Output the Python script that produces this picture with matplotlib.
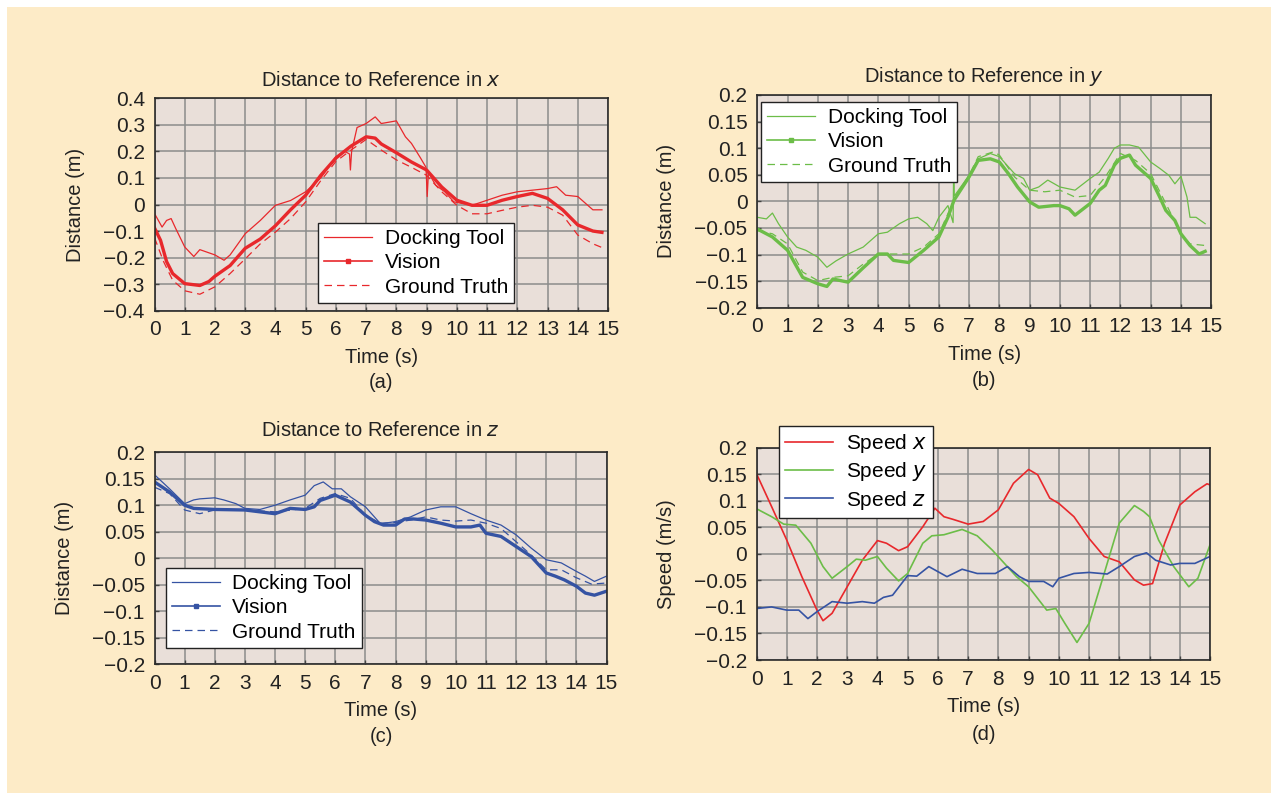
import matplotlib
matplotlib.use("Agg")
import matplotlib.pyplot as plt
from matplotlib.patches import Rectangle

plt.rcParams['font.family'] = ['Liberation Sans', 'DejaVu Sans']

# ---- panel (a): distance in x ----
ax_dock_t = [0, 0.25, 0.4, 0.55, 0.7, 1.0, 1.3, 1.5, 2.0, 2.3, 2.5, 3.0, 3.5, 4.0, 4.5, 5.0, 5.5, 6.0, 6.3,
             6.45, 6.48, 6.52, 6.7, 7.0, 7.3, 7.5, 8.0, 8.3, 8.5, 8.8, 8.98, 9.02, 9.06, 9.3, 9.6, 9.9,
             10.5, 11.0, 11.5, 12.0, 12.5, 13.0, 13.3, 13.6, 14.0, 14.2, 14.5, 14.8]
ax_dock = [-0.034, -0.085, -0.06, -0.053, -0.09, -0.16, -0.196, -0.17, -0.19, -0.21, -0.19, -0.11, -0.06,
           -0.003, 0.015, 0.048, 0.10, 0.18, 0.20, 0.19, 0.13, 0.20, 0.29, 0.305, 0.33, 0.305, 0.315, 0.255,
           0.23, 0.175, 0.14, 0.03, 0.12, 0.073, 0.048, 0.01, -0.003, 0.016, 0.035, 0.048, 0.054, 0.06, 0.067,
           0.035, 0.03, 0.01, -0.02, -0.02]
ax_vis_t = [0, 0.2, 0.4, 0.6, 1.0, 1.5, 1.8, 2.0, 2.5, 3.0, 3.5, 4.0, 4.5, 5.0, 5.5, 6.0, 6.5, 7.0, 7.3, 7.5,
            8.0, 8.5, 9.0, 9.5, 10.0, 10.5, 11.0, 11.5, 12.0, 12.5, 13.0, 13.5, 14.0, 14.5, 14.8]
ax_vis = [-0.088, -0.135, -0.215, -0.26, -0.298, -0.305, -0.29, -0.27, -0.23, -0.165, -0.13, -0.08, -0.02,
          0.035, 0.11, 0.175, 0.22, 0.255, 0.25, 0.228, 0.195, 0.16, 0.13, 0.066, 0.016, -0.003, -0.003,
          0.016, 0.03, 0.042, 0.023, -0.02, -0.077, -0.10, -0.105]
ax_gt_t = [0, 0.3, 0.6, 1.0, 1.5, 2.0, 2.5, 3.0, 3.5, 4.0, 4.5, 5.0, 5.5, 6.0, 6.5, 7.0, 7.5, 8.0, 8.5, 9.0,
           9.5, 10.0, 10.5, 11.0, 11.5, 12.0, 12.5, 13.0, 13.5, 14.0, 14.5, 14.8]
ax_gt = [-0.125, -0.215, -0.285, -0.325, -0.338, -0.31, -0.26, -0.205, -0.148, -0.104, -0.053, 0.01, 0.09,
         0.162, 0.205, 0.245, 0.205, 0.168, 0.14, 0.11, 0.048, -0.003, -0.035, -0.035, -0.022, -0.01, -0.003,
         -0.01, -0.04, -0.115, -0.148, -0.162]

# ---- panel (b): distance in y ----
by_dock_t = [0, 0.3, 0.5, 0.7, 1.0, 1.3, 1.6, 2.0, 2.3, 2.6, 3.0, 3.5, 4.0, 4.3, 4.7, 5.0, 5.3, 5.6, 5.8, 6.0,
             6.3, 6.47, 6.49, 6.51, 7.0, 7.3, 7.7, 8.0, 8.5, 8.8, 9.0, 9.3, 9.6, 10.0, 10.5, 11.0, 11.3, 11.6,
             11.8, 12.0, 12.3, 12.6, 13.0, 13.3, 13.6, 13.8, 14.0, 14.2, 14.3, 14.5, 14.8]
by_dock = [-0.03, -0.033, -0.022, -0.042, -0.067, -0.086, -0.092, -0.105, -0.124, -0.112, -0.099, -0.086,
           -0.061, -0.058, -0.042, -0.033, -0.03, -0.042, -0.055, -0.03, -0.008, -0.04, 0.068, 0.01, 0.049,
           0.08, 0.09, 0.084, 0.052, 0.043, 0.021, 0.027, 0.04, 0.027, 0.021, 0.043, 0.055, 0.081, 0.10,
           0.106, 0.106, 0.102, 0.074, 0.062, 0.049, 0.033, 0.047, 0.008, -0.03, -0.03, -0.042]
by_vis_t = [0, 0.5, 1.0, 1.5, 2.0, 2.3, 2.5, 3.0, 3.5, 4.0, 4.3, 4.5, 5.0, 5.5, 6.0, 6.3, 6.5, 7.0, 7.3, 7.7,
            8.0, 8.3, 8.6, 9.0, 9.3, 9.8, 10.0, 10.3, 10.5, 11.0, 11.3, 11.5, 11.8, 12.0, 12.3, 12.5, 13.0,
            13.3, 13.5, 13.8, 14.0, 14.3, 14.6, 14.8]
by_vis = [-0.052, -0.067, -0.092, -0.143, -0.155, -0.16, -0.146, -0.152, -0.125, -0.099, -0.099, -0.111,
          -0.115, -0.092, -0.067, -0.03, 0.002, 0.046, 0.077, 0.08, 0.074, 0.052, 0.027, -0.001, -0.011,
          -0.008, -0.008, -0.014, -0.026, -0.004, 0.021, 0.03, 0.068, 0.081, 0.087, 0.068, 0.043, 0.008,
          -0.017, -0.036, -0.061, -0.083, -0.099, -0.094]
by_gt_t = [0, 0.5, 1.0, 1.5, 2.0, 2.5, 3.0, 3.5, 4.0, 4.5, 5.0, 5.5, 6.0, 6.5, 7.0, 7.3, 7.8, 8.0, 8.5, 9.0,
           9.5, 10.0, 10.5, 11.0, 11.5, 12.0, 12.5, 13.0, 13.5, 14.0, 14.3, 14.8]
by_gt = [-0.055, -0.061, -0.08, -0.133, -0.149, -0.143, -0.14, -0.118, -0.099, -0.099, -0.099, -0.086,
         -0.061, 0.002, 0.049, 0.084, 0.093, 0.087, 0.046, 0.021, 0.018, 0.021, 0.008, 0.011, 0.046, 0.09,
         0.077, 0.052, -0.004, -0.061, -0.08, -0.083]

# ---- panel (c): distance in z ----
cz_dock_t = [0.05, 0.5, 1.0, 1.3, 1.5, 2.0, 2.3, 2.7, 3.0, 3.5, 4.0, 4.5, 5.0, 5.3, 5.6, 5.9, 6.2, 6.5, 7.0,
             7.5, 8.0, 8.5, 9.0, 9.5, 10.0, 10.5, 11.0, 11.5, 12.0, 12.5, 13.0, 13.5, 14.0, 14.3, 14.6, 15.0]
cz_dock = [0.155, 0.131, 0.103, 0.11, 0.112, 0.114, 0.11, 0.103, 0.094, 0.092, 0.10, 0.11, 0.119, 0.137,
           0.144, 0.131, 0.131, 0.116, 0.097, 0.065, 0.069, 0.078, 0.091, 0.097, 0.097, 0.084, 0.072, 0.0625,
           0.044, 0.019, -0.003, -0.009, -0.025, -0.034, -0.044, -0.034]
cz_vis_t = [0, 0.5, 1.0, 1.3, 2.0, 3.0, 4.0, 4.5, 5.0, 5.3, 5.5, 6.0, 6.5, 7.0, 7.3, 7.6, 8.0, 8.3, 8.6, 9.0,
            9.5, 10.0, 10.5, 10.8, 11.0, 11.5, 12.0, 12.5, 13.0, 13.3, 13.6, 14.0, 14.3, 14.6, 15.0]
cz_vis = [0.144, 0.125, 0.10, 0.094, 0.092, 0.091, 0.084, 0.094, 0.092, 0.097, 0.109, 0.119, 0.106, 0.081,
          0.069, 0.0625, 0.0625, 0.074, 0.074, 0.072, 0.066, 0.059, 0.059, 0.0625, 0.047, 0.041, 0.022,
          0.003, -0.028, -0.034, -0.041, -0.053, -0.066, -0.07, -0.0625]
cz_gt_t = [0, 0.5, 1.0, 1.5, 2.0, 3.0, 4.0, 5.0, 5.5, 6.0, 6.5, 7.0, 7.5, 8.0, 8.5, 9.0, 9.5, 10.0, 10.5,
           11.0, 11.5, 12.0, 12.5, 13.0, 13.5, 14.0, 14.5, 15.0]
cz_gt = [0.134, 0.122, 0.091, 0.084, 0.091, 0.091, 0.0875, 0.094, 0.113, 0.122, 0.113, 0.081, 0.066, 0.0675,
         0.072, 0.078, 0.072, 0.07, 0.072, 0.066, 0.056, 0.031, 0.006, -0.022, -0.022, -0.037, -0.049, -0.047]

# ---- panel (d): speeds ----
sx_t = [0, 0.5, 1.0, 1.5, 2.0, 2.2, 2.5, 3.0, 3.5, 4.0, 4.3, 4.7, 5.0, 5.5, 5.9, 6.2, 6.5, 7.0, 7.5, 8.0, 8.5,
        9.0, 9.3, 9.7, 10.0, 10.5, 11.0, 11.5, 12.0, 12.5, 12.8, 13.1, 13.5, 14.0, 14.5, 14.9, 15.0]
sx = [0.151, 0.089, 0.026, -0.043, -0.106, -0.126, -0.112, -0.062, -0.012, 0.025, 0.02, 0.006, 0.0135, 0.051,
      0.086, 0.07, 0.065, 0.056, 0.061, 0.083, 0.133, 0.159, 0.149, 0.105, 0.095, 0.07, 0.029, -0.005, -0.015,
      -0.049, -0.059, -0.056, 0.02, 0.092, 0.117, 0.132, 0.13]
sy_t = [0, 0.5, 0.9, 1.3, 1.8, 2.2, 2.5, 3.0, 3.3, 3.6, 4.0, 4.3, 4.7, 5.0, 5.5, 5.8, 6.2, 6.8, 7.3, 7.8, 8.2,
        8.6, 9.0, 9.3, 9.6, 9.9, 10.2, 10.6, 11.0, 11.5, 12.0, 12.5, 12.8, 13.0, 13.3, 13.8, 14.3, 14.6, 15.0]
sy = [0.085, 0.07, 0.056, 0.054, 0.02, -0.024, -0.046, -0.024, -0.01, -0.012, -0.005, -0.027, -0.051, -0.037,
      0.02, 0.034, 0.036, 0.046, 0.034, 0.007, -0.018, -0.043, -0.062, -0.084, -0.106, -0.103, -0.131, -0.167,
      -0.131, -0.037, 0.058, 0.091, 0.08, 0.07, 0.026, -0.024, -0.062, -0.046, 0.017]
sz_t = [0, 0.5, 1.0, 1.4, 1.7, 2.0, 2.5, 3.0, 3.5, 3.9, 4.2, 4.5, 5.0, 5.3, 5.7, 6.3, 6.8, 7.3, 7.9, 8.3, 8.7,
        9.0, 9.5, 9.8, 10.0, 10.5, 11.0, 11.6, 12.0, 12.5, 12.9, 13.2, 13.7, 14.0, 14.5, 15.0]
sz = [-0.103, -0.10, -0.106, -0.106, -0.122, -0.109, -0.09, -0.093, -0.09, -0.093, -0.082, -0.078, -0.041,
      -0.042, -0.024, -0.043, -0.029, -0.037, -0.037, -0.024, -0.043, -0.052, -0.052, -0.062, -0.046, -0.037,
      -0.035, -0.038, -0.024, -0.005, 0.002, -0.012, -0.021, -0.018, -0.018, -0.005]

RED = '#e8282c'
GREEN = '#6cbd48'
BLUE = '#3553a3'
FS = 14.5
TXT = '#222222'

fig = plt.figure(figsize=(12.78, 8), dpi=100)
fig.patch.set_facecolor('white')
fig.patches.append(Rectangle((7 / 1278, 7 / 800), 1264 / 1278, 786 / 800,
                             transform=fig.transFigure, facecolor='#fdebc7', edgecolor='none', zorder=-10))


def px_axes(x0, y0, x1, y1):
    # pixel box (top-left origin) -> axes
    return fig.add_axes([x0 / 1278, 1 - y1 / 800, (x1 - x0) / 1278, (y1 - y0) / 800])


def style(ax, ymin, ymax, ystep, yticklabels, ylabel):
    ax.set_facecolor('#e9dfd9')
    ax.set_xlim(0, 15)
    ax.set_ylim(ymin, ymax)
    ax.set_xticks(range(16))
    yt = [ymin + i * ystep for i in range(len(yticklabels))]
    ax.set_yticks(yt)
    ax.set_yticklabels(yticklabels)
    ax.grid(True, color='#8c8c8c', lw=1.1)
    ax.set_axisbelow(True)
    for s in ax.spines.values():
        s.set_color('#2a2a2a')
        s.set_linewidth(1.2)
    ax.tick_params(direction='in', length=3, width=1, color='#444444', labelsize=15, pad=7,
                   labelcolor=TXT)
    ax.set_xlabel('Time (s)', fontsize=FS, color=TXT, labelpad=6)
    ax.set_ylabel(ylabel, fontsize=FS, color=TXT, labelpad=13)


def legend(ax, x0, y0):
    leg = ax.legend(loc='upper left', bbox_to_anchor=(x0 / 1278, 1 - y0 / 800),
                    bbox_transform=fig.transFigure, borderaxespad=0, fontsize=15,
                    frameon=True, fancybox=False, edgecolor=TXT, framealpha=1,
                    handlelength=2.3, labelspacing=0.25, borderpad=0.3, handletextpad=0.6)
    leg.get_frame().set_linewidth(1.0)
    leg.set_zorder(20)


dist_labels_a = ['\u22120.4', '\u22120.3', '\u22120.2', '\u22120.1', '0', '0.1', '0.2', '0.3', '0.4']
dist_labels = ['\u22120.2', '\u22120.15', '\u22120.1', '\u22120.05', '0', '0.05', '0.1', '0.15', '0.2']


def distance_panel(ax, color, dt, dv, vt, vv, gt, gv):
    ax.plot(dt, dv, color=color, lw=0.9, label='Docking Tool')
    ax.plot(vt, vv, color=color, lw=2.4, label='_nolegend_')
    ax.plot([], [], color=color, lw=1.2, marker='s', ms=3, label='Vision')
    ax.plot(gt, gv, color=color, lw=0.9, ls=(0, (6, 4)), label='Ground Truth')


# (a)
ax1 = px_axes(154.5, 98.3, 608, 310.7)
distance_panel(ax1, RED, ax_dock_t, ax_dock, ax_vis_t, ax_vis, ax_gt_t, ax_gt)
style(ax1, -0.4, 0.4, 0.1, dist_labels_a, 'Distance (m)')
ax1.set_title('Distance to Reference in $x$', fontsize=FS, color=TXT, pad=9)
legend(ax1, 318, 223)

# (b)
ax2 = px_axes(757.3, 95, 1211.2, 307.7)
distance_panel(ax2, GREEN, by_dock_t, by_dock, by_vis_t, by_vis, by_gt_t, by_gt)
style(ax2, -0.2, 0.2, 0.05, dist_labels, 'Distance (m)')
ax2.set_title('Distance to Reference in $y$', fontsize=FS, color=TXT, pad=9)
legend(ax2, 761, 102)

# (c)
ax3 = px_axes(154.5, 452.3, 606.5, 664)
distance_panel(ax3, BLUE, cz_dock_t, cz_dock, cz_vis_t, cz_vis, cz_gt_t, cz_gt)
style(ax3, -0.2, 0.2, 0.05, dist_labels, 'Distance (m)')
ax3.set_title('Distance to Reference in $z$', fontsize=FS, color=TXT, pad=12)
legend(ax3, 165.5, 568)

# (d)
ax4 = px_axes(756.5, 447.7, 1210, 660)
ax4.plot(sx_t, sx, color=RED, lw=1.2, label='Speed $x$')
ax4.plot(sy_t, sy, color=GREEN, lw=1.2, label='Speed $y$')
ax4.plot(sz_t, sz, color=BLUE, lw=1.2, label='Speed $z$')
style(ax4, -0.2, 0.2, 0.05, dist_labels, 'Speed (m/s)')
legend(ax4, 779, 426)

for lab, xc, yc in [('(a)', 381, 382), ('(b)', 984, 380), ('(c)', 381, 737), ('(d)', 984, 735)]:
    fig.text(xc / 1278, 1 - yc / 800, lab, ha='center', va='center', fontsize=FS, color=TXT)

fig.savefig('out.png', dpi=100, facecolor=fig.get_facecolor())
